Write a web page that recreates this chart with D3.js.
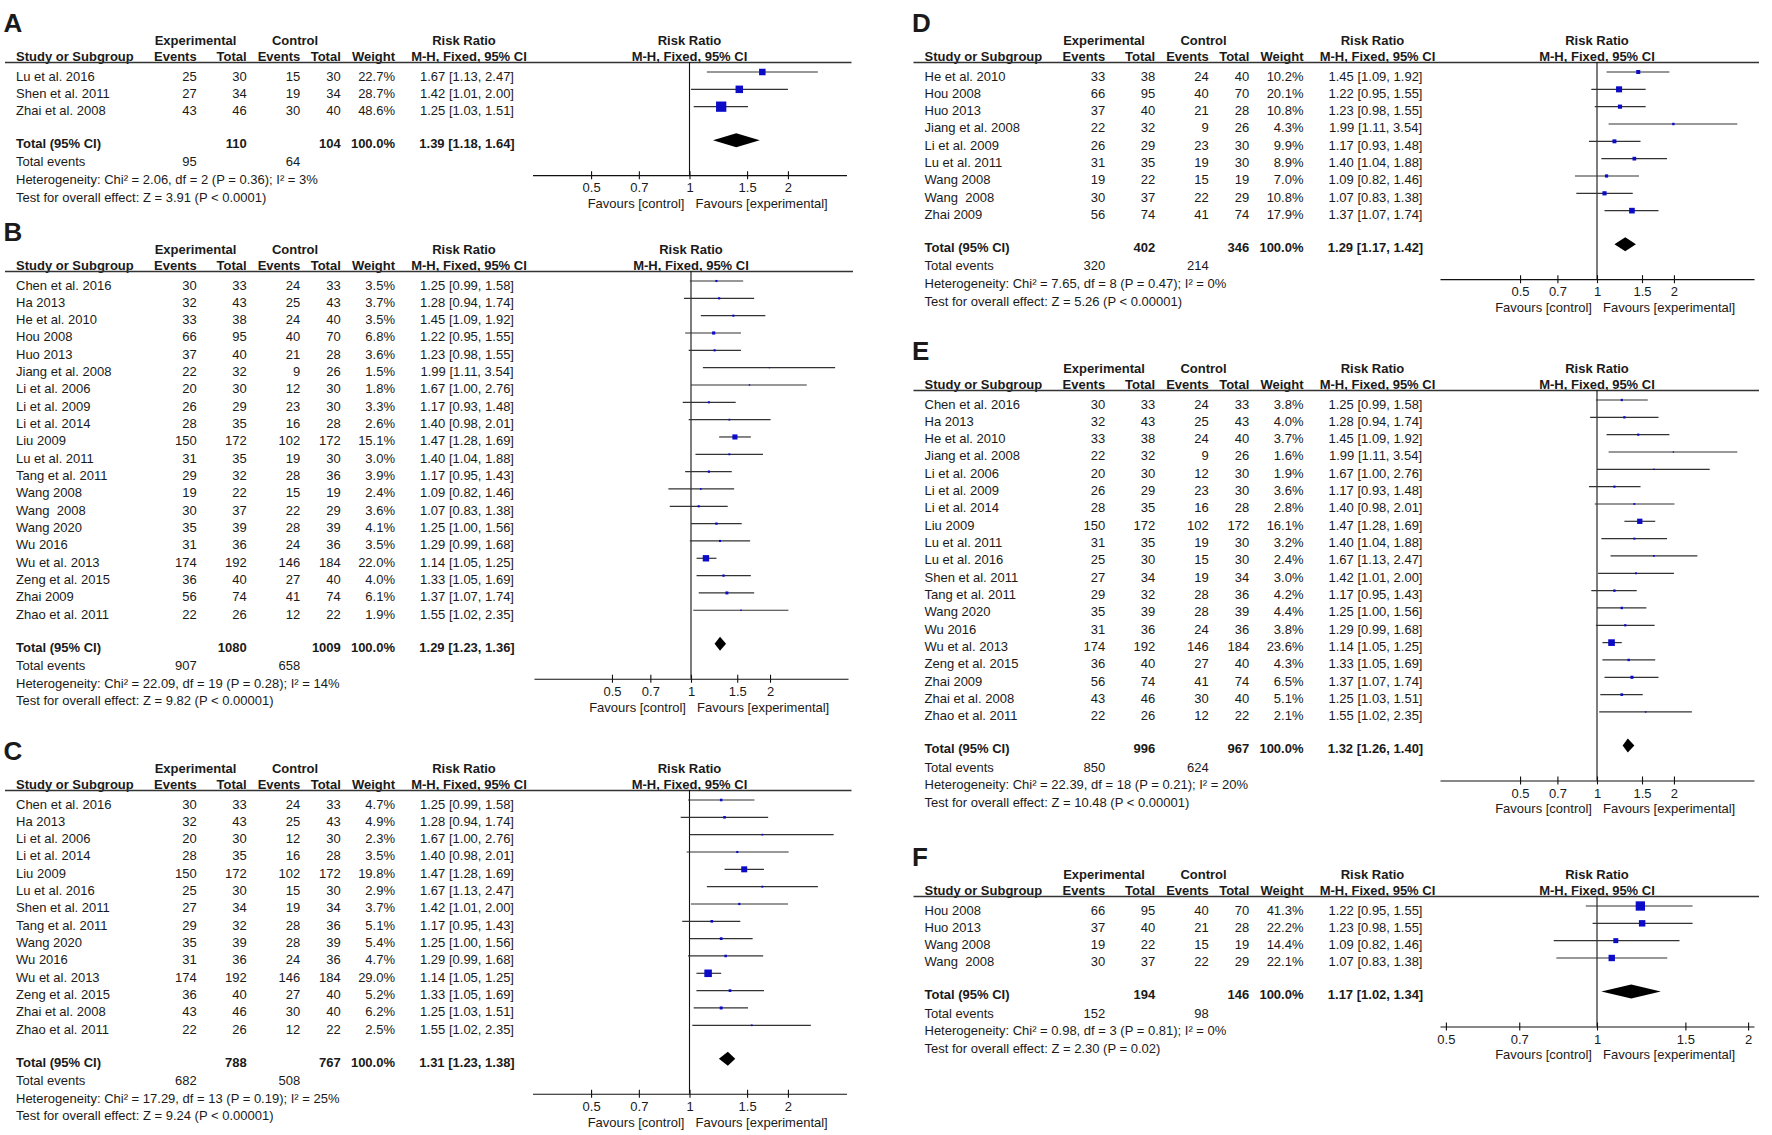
<!DOCTYPE html>
<html>
<head>
<meta charset="utf-8">
<script src="https://cdn.jsdelivr.net/npm/d3@7/dist/d3.min.js"></script>
<style>
    body { margin: 0; background: #fff; }
    text { font-family: "Liberation Sans", Arial, Helvetica, sans-serif; fill: #1a1a1a; white-space: pre; }
</style>
</head>
<body>
<div id="d3-chart"></div>
<script>
// ticks shared by all six plots
const tickValues = [0.5, 0.7, 1, 1.5, 2];

// [study, exp events, exp total, ctrl events, ctrl total, weight %, RR, lower, upper]
const studiesA = [
    ['Lu et al. 2016', 25, 30, 15, 30, 22.7, 1.67, 1.13, 2.47],
    ['Shen et al. 2011', 27, 34, 19, 34, 28.7, 1.42, 1.01, 2.00],
    ['Zhai et al. 2008', 43, 46, 30, 40, 48.6, 1.25, 1.03, 1.51]
];
// [exp total, ctrl total, RR, lower, upper, exp events, ctrl events]
const totalA = [110, 104, 1.39, 1.18, 1.64, 95, 64];
const statsA = ['Heterogeneity: Chi² = 2.06, df = 2 (P = 0.36); I² = 3%', 'Test for overall effect: Z = 3.91 (P < 0.0001)'];

const studiesB = [
    ['Chen et al. 2016', 30, 33, 24, 33, 3.5, 1.25, 0.99, 1.58],
    ['Ha 2013', 32, 43, 25, 43, 3.7, 1.28, 0.94, 1.74],
    ['He et al. 2010', 33, 38, 24, 40, 3.5, 1.45, 1.09, 1.92],
    ['Hou 2008', 66, 95, 40, 70, 6.8, 1.22, 0.95, 1.55],
    ['Huo 2013', 37, 40, 21, 28, 3.6, 1.23, 0.98, 1.55],
    ['Jiang et al. 2008', 22, 32, 9, 26, 1.5, 1.99, 1.11, 3.54],
    ['Li et al. 2006', 20, 30, 12, 30, 1.8, 1.67, 1.00, 2.76],
    ['Li et al. 2009', 26, 29, 23, 30, 3.3, 1.17, 0.93, 1.48],
    ['Li et al. 2014', 28, 35, 16, 28, 2.6, 1.40, 0.98, 2.01],
    ['Liu 2009', 150, 172, 102, 172, 15.1, 1.47, 1.28, 1.69],
    ['Lu et al. 2011', 31, 35, 19, 30, 3.0, 1.40, 1.04, 1.88],
    ['Tang et al. 2011', 29, 32, 28, 36, 3.9, 1.17, 0.95, 1.43],
    ['Wang 2008', 19, 22, 15, 19, 2.4, 1.09, 0.82, 1.46],
    ['Wang  2008', 30, 37, 22, 29, 3.6, 1.07, 0.83, 1.38],
    ['Wang 2020', 35, 39, 28, 39, 4.1, 1.25, 1.00, 1.56],
    ['Wu 2016', 31, 36, 24, 36, 3.5, 1.29, 0.99, 1.68],
    ['Wu et al. 2013', 174, 192, 146, 184, 22.0, 1.14, 1.05, 1.25],
    ['Zeng et al. 2015', 36, 40, 27, 40, 4.0, 1.33, 1.05, 1.69],
    ['Zhai 2009', 56, 74, 41, 74, 6.1, 1.37, 1.07, 1.74],
    ['Zhao et al. 2011', 22, 26, 12, 22, 1.9, 1.55, 1.02, 2.35]
];
const totalB = [1080, 1009, 1.29, 1.23, 1.36, 907, 658];
const statsB = ['Heterogeneity: Chi² = 22.09, df = 19 (P = 0.28); I² = 14%', 'Test for overall effect: Z = 9.82 (P < 0.00001)'];

const studiesC = [
    ['Chen et al. 2016', 30, 33, 24, 33, 4.7, 1.25, 0.99, 1.58],
    ['Ha 2013', 32, 43, 25, 43, 4.9, 1.28, 0.94, 1.74],
    ['Li et al. 2006', 20, 30, 12, 30, 2.3, 1.67, 1.00, 2.76],
    ['Li et al. 2014', 28, 35, 16, 28, 3.5, 1.40, 0.98, 2.01],
    ['Liu 2009', 150, 172, 102, 172, 19.8, 1.47, 1.28, 1.69],
    ['Lu et al. 2016', 25, 30, 15, 30, 2.9, 1.67, 1.13, 2.47],
    ['Shen et al. 2011', 27, 34, 19, 34, 3.7, 1.42, 1.01, 2.00],
    ['Tang et al. 2011', 29, 32, 28, 36, 5.1, 1.17, 0.95, 1.43],
    ['Wang 2020', 35, 39, 28, 39, 5.4, 1.25, 1.00, 1.56],
    ['Wu 2016', 31, 36, 24, 36, 4.7, 1.29, 0.99, 1.68],
    ['Wu et al. 2013', 174, 192, 146, 184, 29.0, 1.14, 1.05, 1.25],
    ['Zeng et al. 2015', 36, 40, 27, 40, 5.2, 1.33, 1.05, 1.69],
    ['Zhai et al. 2008', 43, 46, 30, 40, 6.2, 1.25, 1.03, 1.51],
    ['Zhao et al. 2011', 22, 26, 12, 22, 2.5, 1.55, 1.02, 2.35]
];
const totalC = [788, 767, 1.31, 1.23, 1.38, 682, 508];
const statsC = ['Heterogeneity: Chi² = 17.29, df = 13 (P = 0.19); I² = 25%', 'Test for overall effect: Z = 9.24 (P < 0.00001)'];

const studiesD = [
    ['He et al. 2010', 33, 38, 24, 40, 10.2, 1.45, 1.09, 1.92],
    ['Hou 2008', 66, 95, 40, 70, 20.1, 1.22, 0.95, 1.55],
    ['Huo 2013', 37, 40, 21, 28, 10.8, 1.23, 0.98, 1.55],
    ['Jiang et al. 2008', 22, 32, 9, 26, 4.3, 1.99, 1.11, 3.54],
    ['Li et al. 2009', 26, 29, 23, 30, 9.9, 1.17, 0.93, 1.48],
    ['Lu et al. 2011', 31, 35, 19, 30, 8.9, 1.40, 1.04, 1.88],
    ['Wang 2008', 19, 22, 15, 19, 7.0, 1.09, 0.82, 1.46],
    ['Wang  2008', 30, 37, 22, 29, 10.8, 1.07, 0.83, 1.38],
    ['Zhai 2009', 56, 74, 41, 74, 17.9, 1.37, 1.07, 1.74]
];
const totalD = [402, 346, 1.29, 1.17, 1.42, 320, 214];
const statsD = ['Heterogeneity: Chi² = 7.65, df = 8 (P = 0.47); I² = 0%', 'Test for overall effect: Z = 5.26 (P < 0.00001)'];

const studiesE = [
    ['Chen et al. 2016', 30, 33, 24, 33, 3.8, 1.25, 0.99, 1.58],
    ['Ha 2013', 32, 43, 25, 43, 4.0, 1.28, 0.94, 1.74],
    ['He et al. 2010', 33, 38, 24, 40, 3.7, 1.45, 1.09, 1.92],
    ['Jiang et al. 2008', 22, 32, 9, 26, 1.6, 1.99, 1.11, 3.54],
    ['Li et al. 2006', 20, 30, 12, 30, 1.9, 1.67, 1.00, 2.76],
    ['Li et al. 2009', 26, 29, 23, 30, 3.6, 1.17, 0.93, 1.48],
    ['Li et al. 2014', 28, 35, 16, 28, 2.8, 1.40, 0.98, 2.01],
    ['Liu 2009', 150, 172, 102, 172, 16.1, 1.47, 1.28, 1.69],
    ['Lu et al. 2011', 31, 35, 19, 30, 3.2, 1.40, 1.04, 1.88],
    ['Lu et al. 2016', 25, 30, 15, 30, 2.4, 1.67, 1.13, 2.47],
    ['Shen et al. 2011', 27, 34, 19, 34, 3.0, 1.42, 1.01, 2.00],
    ['Tang et al. 2011', 29, 32, 28, 36, 4.2, 1.17, 0.95, 1.43],
    ['Wang 2020', 35, 39, 28, 39, 4.4, 1.25, 1.00, 1.56],
    ['Wu 2016', 31, 36, 24, 36, 3.8, 1.29, 0.99, 1.68],
    ['Wu et al. 2013', 174, 192, 146, 184, 23.6, 1.14, 1.05, 1.25],
    ['Zeng et al. 2015', 36, 40, 27, 40, 4.3, 1.33, 1.05, 1.69],
    ['Zhai 2009', 56, 74, 41, 74, 6.5, 1.37, 1.07, 1.74],
    ['Zhai et al. 2008', 43, 46, 30, 40, 5.1, 1.25, 1.03, 1.51],
    ['Zhao et al. 2011', 22, 26, 12, 22, 2.1, 1.55, 1.02, 2.35]
];
const totalE = [996, 967, 1.32, 1.26, 1.40, 850, 624];
const statsE = ['Heterogeneity: Chi² = 22.39, df = 18 (P = 0.21); I² = 20%', 'Test for overall effect: Z = 10.48 (P < 0.00001)'];

const studiesF = [
    ['Hou 2008', 66, 95, 40, 70, 41.3, 1.22, 0.95, 1.55],
    ['Huo 2013', 37, 40, 21, 28, 22.2, 1.23, 0.98, 1.55],
    ['Wang 2008', 19, 22, 15, 19, 14.4, 1.09, 0.82, 1.46],
    ['Wang  2008', 30, 37, 22, 29, 22.1, 1.07, 0.83, 1.38]
];
const totalF = [194, 146, 1.17, 1.02, 1.34, 152, 98];
const statsF = ['Heterogeneity: Chi² = 0.98, df = 3 (P = 0.81); I² = 0%', 'Test for overall effect: Z = 2.30 (P = 0.02)'];

// Panel placement (x of study column, y of header rule, null line x, px per log unit)
const panels = [
    { label: 'A', rows: studiesA, total: totalA, stats: statsA, x: 16, rule: 62, nullX: 689.5, k: 142 },
    { label: 'B', rows: studiesB, total: totalB, stats: statsB, x: 16, rule: 271, nullX: 691, k: 114 },
    { label: 'C', rows: studiesC, total: totalC, stats: statsC, x: 16, rule: 790, nullX: 689.5, k: 142 },
    { label: 'D', rows: studiesD, total: totalD, stats: statsD, x: 924.5, rule: 62, nullX: 1597, k: 111 },
    { label: 'E', rows: studiesE, total: totalE, stats: statsE, x: 924.5, rule: 390, nullX: 1597, k: 111 },
    { label: 'F', rows: studiesF, total: totalF, stats: statsF, x: 924.5, rule: 896, nullX: 1597, k: 218 }
];

// column offsets from the study column
const col = { ee: 180.7, et: 230.7, ce: 284.3, ct: 324.8, w: 379, rr: 451, exp: 179.5, ctl: 279, rrHead: 448 };
const rowH = 17.33;
const f2 = d3.format('.2f');
const f1 = d3.format('.1f');
const rrText = (rr, lo, hi) => f2(rr) + ' [' + f2(lo) + ', ' + f2(hi) + ']';
const boxSize = d3.scalePow().exponent(0.6).domain([0, 100]).range([0, Math.pow(100, 0.6)]);

const svg = d3.select('#d3-chart').append('svg')
    .attr('width', 1772)
    .attr('height', 1135);
svg.append('rect').attr('width', 1772).attr('height', 1135).attr('fill', '#fff');

const txt = (g, x, y, s, anchor, bold, size) => g.append('text')
    .attr('x', x).attr('y', y)
    .attr('text-anchor', anchor || 'start')
    .style('font-size', (size || 13) + 'px')
    .style('font-weight', bold ? 'bold' : 'normal')
    .text(s);

drawPanel = (p) => {
    const g = svg.append('g');
    const x0 = p.x, L = p.rule;
    const half = 157;
    const xScale = d3.scaleLog()
        .domain([Math.exp(-half / p.k), Math.exp(half / p.k)])
        .range([p.nullX - half, p.nullX + half]);
    const rowY = i => L + 18.5 + i * rowH;
    const totalY = rowY(p.rows.length - 1) + 33;
    const axisY = totalY + 27;

    // panel letter and headers
    txt(g, x0 - 12.5, L - 30, p.label, 'start', true, 26);
    txt(g, x0 + col.exp, L - 17, 'Experimental', 'middle', true);
    txt(g, x0 + col.ctl, L - 17, 'Control', 'middle', true);
    txt(g, x0 + col.rrHead, L - 17, 'Risk Ratio', 'middle', true);
    txt(g, p.nullX, L - 17, 'Risk Ratio', 'middle', true);
    txt(g, x0, L - 1, 'Study or Subgroup', 'start', true);
    txt(g, x0 + col.ee, L - 1, 'Events', 'end', true);
    txt(g, x0 + col.et, L - 1, 'Total', 'end', true);
    txt(g, x0 + col.ce, L - 1, 'Events', 'end', true);
    txt(g, x0 + col.ct, L - 1, 'Total', 'end', true);
    txt(g, x0 + col.w, L - 1, 'Weight', 'end', true);
    txt(g, x0 + col.rr + 2, L - 1, 'M-H, Fixed, 95% CI', 'middle', true);
    txt(g, p.nullX, L - 1, 'M-H, Fixed, 95% CI', 'middle', true);
    g.append('line')
        .attr('x1', x0 - 11).attr('x2', p.nullX + 162)
        .attr('y1', L + 0.5).attr('y2', L + 0.5)
        .attr('stroke', '#333').attr('stroke-width', 1.4);

    // null line
    g.append('line')
        .attr('x1', xScale(1)).attr('x2', xScale(1))
        .attr('y1', L).attr('y2', axisY)
        .attr('stroke', '#111').attr('stroke-width', 1.1);

    // study rows
    p.rows.forEach((d, i) => {
        const y = rowY(i);
        txt(g, x0, y, d[0]);
        txt(g, x0 + col.ee, y, d[1], 'end');
        txt(g, x0 + col.et, y, d[2], 'end');
        txt(g, x0 + col.ce, y, d[3], 'end');
        txt(g, x0 + col.ct, y, d[4], 'end');
        txt(g, x0 + col.w, y, f1(d[5]) + '%', 'end');
        txt(g, x0 + col.rr, y, rrText(d[6], d[7], d[8]), 'middle');
    });

    const plot = g.append('g');
    plot.selectAll('.ci')
        .data(p.rows)
        .enter().append('line')
        .attr('class', 'ci')
        .attr('x1', d => xScale(d[7]))
        .attr('x2', d => xScale(d[8]))
        .attr('y1', (d, i) => rowY(i) - 8.5)
        .attr('y2', (d, i) => rowY(i) - 8.5)
        .attr('stroke', '#333').attr('stroke-width', 1.2);
    plot.selectAll('.box')
        .data(p.rows)
        .enter().append('rect')
        .attr('class', 'box')
        .attr('x', d => xScale(d[6]) - boxSize(d[5]) / 2)
        .attr('y', (d, i) => rowY(i) - 8.5 - boxSize(d[5]) / 2)
        .attr('width', d => boxSize(d[5]))
        .attr('height', d => boxSize(d[5]))
        .attr('fill', '#0c0cc8');

    // totals
    const t = p.total;
    txt(g, x0, totalY, 'Total (95% CI)', 'start', true);
    txt(g, x0 + col.et, totalY, t[0], 'end', true);
    txt(g, x0 + col.ct, totalY, t[1], 'end', true);
    txt(g, x0 + col.w, totalY, '100.0%', 'end', true);
    txt(g, x0 + col.rr, totalY, rrText(t[2], t[3], t[4]), 'middle', true);
    const dy = totalY - 8;
    plot.append('path')
        .attr('d', 'M' + xScale(t[3]) + ',' + dy + 'L' + xScale(t[2]) + ',' + (dy - 7) +
            'L' + xScale(t[4]) + ',' + dy + 'L' + xScale(t[2]) + ',' + (dy + 7) + 'Z')
        .attr('fill', '#000');
    txt(g, x0, totalY + 18.3, 'Total events');
    txt(g, x0 + col.ee, totalY + 18.3, t[5], 'end');
    txt(g, x0 + col.ce, totalY + 18.3, t[6], 'end');
    txt(g, x0, totalY + 35.9, p.stats[0]);
    txt(g, x0, totalY + 53.5, p.stats[1]);

    // axis
    const axis = d3.axisBottom(xScale)
        .tickValues(tickValues)
        .tickFormat(d => d)
        .tickSizeInner(4)
        .tickSizeOuter(0)
        .tickPadding(4);
    const ag = g.append('g')
        .attr('transform', 'translate(0,' + axisY + ')')
        .call(axis)
        .attr('font-size', 13)
        .attr('font-family', '"Liberation Sans", Arial, sans-serif');
    ag.select('.domain').attr('stroke', '#111').attr('stroke-width', 1.1);
    ag.selectAll('.tick line').attr('y1', -4).attr('y2', 4).attr('stroke', '#111').attr('stroke-width', 1.1);
    ag.selectAll('.tick text').style('font-size', '13px');
    txt(g, xScale(1) - 5, axisY + 33, 'Favours [control]', 'end');
    txt(g, xScale(1) + 6, axisY + 33, 'Favours [experimental]', 'start');
};

panels.forEach(p => drawPanel(p));
</script>
</body>
</html>
